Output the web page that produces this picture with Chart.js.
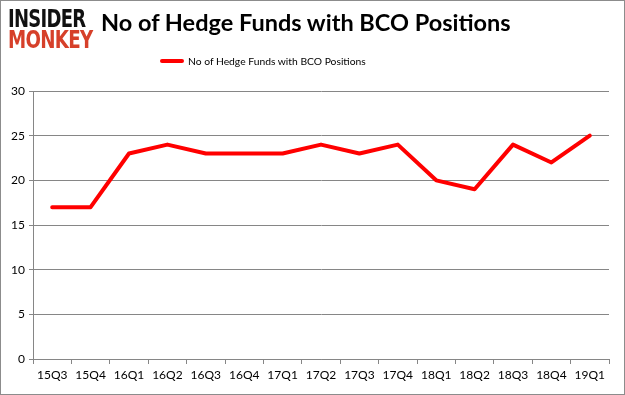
<!DOCTYPE html>
<html>
<head>
<meta charset="utf-8">
<script src="https://cdn.jsdelivr.net/npm/chart.js@4/dist/chart.umd.min.js"></script>
<style>
  body { margin: 0; background: #fff; }
  #wrap { position: relative; width: 625px; height: 395px; }
  #myChart { position: absolute; left: 0; top: 0; }
  #frame { position: absolute; left: 0; top: 0; width: 625px; height: 395px; box-sizing: border-box; border: 1px solid #8c8c8c; pointer-events: none; }
  .logo { position: absolute; left: 8px; font-family: "DejaVu Sans"; font-weight: bold; transform-origin: left top; white-space: nowrap; letter-spacing: -1px; }
  #titulo { position: absolute; left: 101px; top: 8px; font-family: Lato, "Open Sans"; font-weight: bold; font-size: 23.5px; color: #000; white-space: nowrap; }
  #legenda { position: absolute; left: 160px; top: 55px; font-family: Lato, "Open Sans"; font-size: 10.3px; color: #000; white-space: nowrap; }
  #legenda span.linha { display: inline-block; width: 24px; height: 4px; background: #ff0000; border-radius: 2px; vertical-align: middle; margin-right: 4px; position: relative; top: -1px; }
</style>
</head>
<body>
<div id="wrap">
  <canvas id="myChart" width="625" height="395"></canvas>
  <div class="logo" style="top:4px; font-size:25px; color:#111; transform:scaleX(0.72);">INSIDER</div>
  <div class="logo" style="top:25px; font-size:25px; color:#d6402a; transform:scaleX(0.73);">MONKEY</div>
  <div id="titulo">No of Hedge Funds with BCO Positions</div>
  <div id="legenda"><span class="linha"></span>No of Hedge Funds with BCO Positions</div>
  <div id="frame"></div>
</div>
<script>
// dados
const trimestres = ['15Q3', '15Q4', '16Q1', '16Q2', '16Q3', '16Q4', '17Q1', '17Q2', '17Q3', '17Q4', '18Q1', '18Q2', '18Q3', '18Q4', '19Q1'];
const fundos = [17, 17, 23, 24, 23, 23, 23, 24, 23, 24, 20, 19, 24, 22, 25];
const nomeSerie = 'No of Hedge Funds with BCO Positions';

const ctx = document.getElementById('myChart').getContext('2d');

const chart = new Chart(ctx, {
  type: 'line',
  data: {
    labels: trimestres,
    datasets: [{
      label: nomeSerie,
      data: fundos,
      borderColor: '#ff0000',
      backgroundColor: '#ff0000',
      borderWidth: 4,
      pointRadius: 0,
      tension: 0,
      borderCapStyle: 'round',
      borderJoinStyle: 'round'
    }]
  },
  options: {
    responsive: false,
    animation: false,
    layout: { padding: { left: 0, top: 91, right: 16, bottom: 0 } },
    plugins: {
      legend: { display: false },
      title: { display: false },
      tooltip: { enabled: false }
    },
    scales: {
      x: {
        offset: true,
        grid: { display: true, drawOnChartArea: false, offset: true, color: '#868686', tickLength: 5 },
        border: { color: '#868686', width: 1 },
        ticks: { color: '#000', font: { family: 'Lato', size: 12 }, padding: 4, maxRotation: 0, autoSkip: false },
        afterFit: s => { s.height = 36; }
      },
      y: {
        min: 0,
        max: 30,
        grid: { color: '#868686', tickLength: 4 },
        border: { color: '#868686', width: 1 },
        ticks: { stepSize: 5, color: '#000', font: { family: 'Lato', size: 12 }, padding: 4 },
        afterFit: s => { s.width = 33; }
      }
    }
  }
});
</script>
</body>
</html>
